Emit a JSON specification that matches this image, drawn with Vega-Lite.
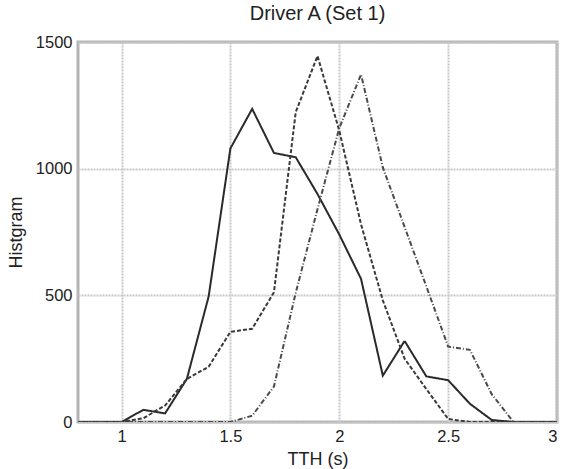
{
  "$schema": "https://vega.github.io/schema/vega-lite/v6.json",
  "autosize": "none",
  "padding": {"left": 78, "top": 42, "right": 7, "bottom": 47},
  "width": 479,
  "height": 380,
  "background": "white",
  "title": {"text": "Driver A (Set 1)", "font": "Liberation Sans", "fontSize": 20, "fontWeight": "normal", "color": "#222", "offset": 10},
  "config": {
    "view": {"stroke": "#b4b4b4", "strokeWidth": 3},
    "axis": {"labelFont": "Liberation Sans", "titleFont": "Liberation Sans", "labelFontSize": 16.5, "titleFontSize": 18, "titleFontWeight": "normal", "labelColor": "#222", "titleColor": "#222", "domain": false, "ticks": false, "gridColor": "#c8c8c8", "gridWidth": 2, "gridDash": [2, 1]}
  },
  "data": {"values": [
    {"x": 0.8, "y": 0, "s": "A"}, {"x": 0.9, "y": 0, "s": "A"}, {"x": 1.0, "y": 0, "s": "A"}, {"x": 1.1, "y": 48, "s": "A"}, {"x": 1.2, "y": 34, "s": "A"}, {"x": 1.3, "y": 170, "s": "A"}, {"x": 1.4, "y": 495, "s": "A"}, {"x": 1.5, "y": 1080, "s": "A"}, {"x": 1.6, "y": 1236, "s": "A"}, {"x": 1.7, "y": 1062, "s": "A"}, {"x": 1.8, "y": 1045, "s": "A"}, {"x": 1.9, "y": 900, "s": "A"}, {"x": 2.0, "y": 740, "s": "A"}, {"x": 2.1, "y": 565, "s": "A"}, {"x": 2.2, "y": 183, "s": "A"}, {"x": 2.3, "y": 320, "s": "A"}, {"x": 2.4, "y": 180, "s": "A"}, {"x": 2.5, "y": 165, "s": "A"}, {"x": 2.6, "y": 72, "s": "A"}, {"x": 2.7, "y": 8, "s": "A"}, {"x": 2.8, "y": 0, "s": "A"}, {"x": 2.9, "y": 0, "s": "A"}, {"x": 3.0, "y": 0, "s": "A"},
    {"x": 0.8, "y": 0, "s": "B"}, {"x": 0.9, "y": 0, "s": "B"}, {"x": 1.0, "y": 0, "s": "B"}, {"x": 1.1, "y": 15, "s": "B"}, {"x": 1.2, "y": 65, "s": "B"}, {"x": 1.3, "y": 170, "s": "B"}, {"x": 1.4, "y": 218, "s": "B"}, {"x": 1.5, "y": 356, "s": "B"}, {"x": 1.6, "y": 368, "s": "B"}, {"x": 1.7, "y": 512, "s": "B"}, {"x": 1.8, "y": 1223, "s": "B"}, {"x": 1.9, "y": 1445, "s": "B"}, {"x": 2.0, "y": 1150, "s": "B"}, {"x": 2.1, "y": 780, "s": "B"}, {"x": 2.2, "y": 480, "s": "B"}, {"x": 2.3, "y": 250, "s": "B"}, {"x": 2.4, "y": 130, "s": "B"}, {"x": 2.5, "y": 12, "s": "B"}, {"x": 2.6, "y": 0, "s": "B"}, {"x": 2.7, "y": 0, "s": "B"}, {"x": 2.8, "y": 0, "s": "B"}, {"x": 2.9, "y": 0, "s": "B"}, {"x": 3.0, "y": 0, "s": "B"},
    {"x": 0.8, "y": 0, "s": "C"}, {"x": 0.9, "y": 0, "s": "C"}, {"x": 1.0, "y": 0, "s": "C"}, {"x": 1.1, "y": 0, "s": "C"}, {"x": 1.2, "y": 0, "s": "C"}, {"x": 1.3, "y": 0, "s": "C"}, {"x": 1.4, "y": 0, "s": "C"}, {"x": 1.5, "y": 0, "s": "C"}, {"x": 1.6, "y": 25, "s": "C"}, {"x": 1.7, "y": 140, "s": "C"}, {"x": 1.8, "y": 510, "s": "C"}, {"x": 1.9, "y": 840, "s": "C"}, {"x": 2.0, "y": 1160, "s": "C"}, {"x": 2.1, "y": 1372, "s": "C"}, {"x": 2.2, "y": 1005, "s": "C"}, {"x": 2.3, "y": 770, "s": "C"}, {"x": 2.4, "y": 535, "s": "C"}, {"x": 2.5, "y": 298, "s": "C"}, {"x": 2.6, "y": 285, "s": "C"}, {"x": 2.7, "y": 110, "s": "C"}, {"x": 2.8, "y": 0, "s": "C"}, {"x": 2.9, "y": 0, "s": "C"}, {"x": 3.0, "y": 0, "s": "C"}
  ]},
  "mark": {"type": "line", "strokeWidth": 2, "clip": true},
  "encoding": {
    "x": {"field": "x", "type": "quantitative", "scale": {"domain": [0.8, 3], "nice": false, "zero": false}, "axis": {"values": [1, 1.5, 2, 2.5, 3], "format": "~g", "title": "TTH (s)", "labelPadding": 6, "titlePadding": 6}},
    "y": {"field": "y", "type": "quantitative", "scale": {"domain": [0, 1500], "nice": false}, "axis": {"values": [0, 500, 1000, 1500], "format": "d", "title": "Histgram", "labelPadding": 6, "titlePadding": 10}},
    "color": {"field": "s", "type": "nominal", "scale": {"domain": ["A", "B", "C"], "range": ["#2a2a2a", "#3a3a3a", "#4a4a4a"]}, "legend": null},
    "strokeDash": {"field": "s", "type": "nominal", "scale": {"domain": ["A", "B", "C"], "range": [[1, 0], [4, 2], [5, 2, 1, 2]]}, "legend": null}
  }
}
